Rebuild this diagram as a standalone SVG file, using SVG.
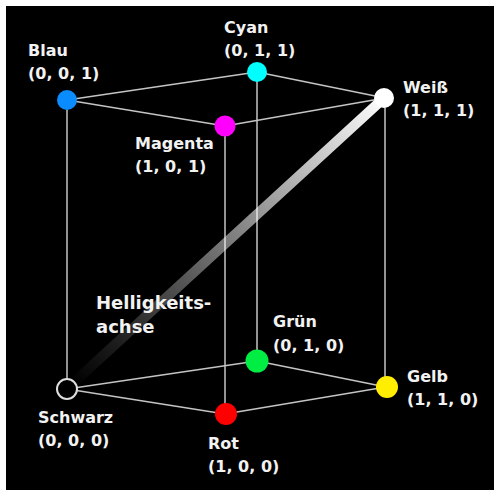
<svg xmlns="http://www.w3.org/2000/svg" width="494" height="490" viewBox="0 0 494 490">
<defs>
<style>
.edge{stroke:#c4c4c4;stroke-width:1.5;fill:none}
.lbl{font-family:"DejaVu Sans","Liberation Sans",sans-serif;font-weight:bold;font-size:16px;fill:#f2f2f2}
.big{font-size:18px}
</style>
<linearGradient id="axis" gradientUnits="userSpaceOnUse" x1="72" y1="384" x2="384" y2="98">
<stop offset="0" stop-color="#fff" stop-opacity="0"/>
<stop offset="0.15" stop-color="#fff" stop-opacity="0.12"/>
<stop offset="1" stop-color="#fff" stop-opacity="1"/>
</linearGradient>
</defs>
<rect x="0" y="0" width="494" height="490" fill="#fff"/>
<rect x="6" y="6" width="488" height="484" fill="#000"/>
<g id="connectors">
<line class="edge" x1="67" y1="100" x2="257" y2="72"/>
<line class="edge" x1="67" y1="100" x2="225" y2="126"/>
<line class="edge" x1="257" y1="72" x2="385" y2="98"/>
<line class="edge" x1="225" y1="126" x2="385" y2="98"/>
<line class="edge" x1="67" y1="100" x2="67" y2="389"/>
<line class="edge" x1="257" y1="72" x2="257" y2="361"/>
<line class="edge" x1="225" y1="126" x2="225" y2="414"/>
<line class="edge" x1="385" y1="98" x2="385" y2="387"/>
<line class="edge" x1="67" y1="389" x2="257" y2="361"/>
<line class="edge" x1="67" y1="389" x2="225" y2="414"/>
<line class="edge" x1="257" y1="361" x2="386" y2="387"/>
<line class="edge" x1="225" y1="414" x2="386" y2="387"/>
<line x1="72" y1="384" x2="384" y2="98" stroke="url(#axis)" stroke-width="10" stroke-linecap="round"/>
</g>
<g id="blau"><circle cx="67" cy="100" r="10" fill="#0a8cff"/><text class="lbl" x="28" y="56">Blau</text><text class="lbl" x="28" y="79">(0, 0, 1)</text></g>
<g id="cyan"><circle cx="257" cy="72" r="10" fill="#00ffff"/><text class="lbl" x="224" y="33">Cyan</text><text class="lbl" x="224" y="56">(0, 1, 1)</text></g>
<g id="magenta"><circle cx="225" cy="126" r="10.5" fill="#ff00ff"/><text class="lbl" x="135" y="149">Magenta</text><text class="lbl" x="135" y="172">(1, 0, 1)</text></g>
<g id="weiss"><circle cx="384" cy="98" r="10" fill="#fff"/><text class="lbl" x="403" y="93">Weiß</text><text class="lbl" x="403" y="116">(1, 1, 1)</text></g>
<g id="schwarz"><circle cx="67" cy="389" r="10" fill="#000" stroke="#ddd" stroke-width="2"/><text class="lbl" x="38" y="423">Schwarz</text><text class="lbl" x="38" y="446">(0, 0, 0)</text></g>
<g id="gruen"><circle cx="257" cy="361" r="11.5" fill="#00ee44"/><text class="lbl" x="273" y="327">Grün</text><text class="lbl" x="273" y="351">(0, 1, 0)</text></g>
<g id="rot"><circle cx="226" cy="414" r="11" fill="#ff0000"/><text class="lbl" x="208" y="449">Rot</text><text class="lbl" x="208" y="472">(1, 0, 0)</text></g>
<g id="gelb"><circle cx="387" cy="387" r="11" fill="#ffee00"/><text class="lbl" x="407" y="382">Gelb</text><text class="lbl" x="407" y="405">(1, 1, 0)</text></g>
<g id="achse"><text class="lbl big" x="96" y="309">Helligkeits-</text><text class="lbl big" x="96" y="333">achse</text></g>
</svg>
